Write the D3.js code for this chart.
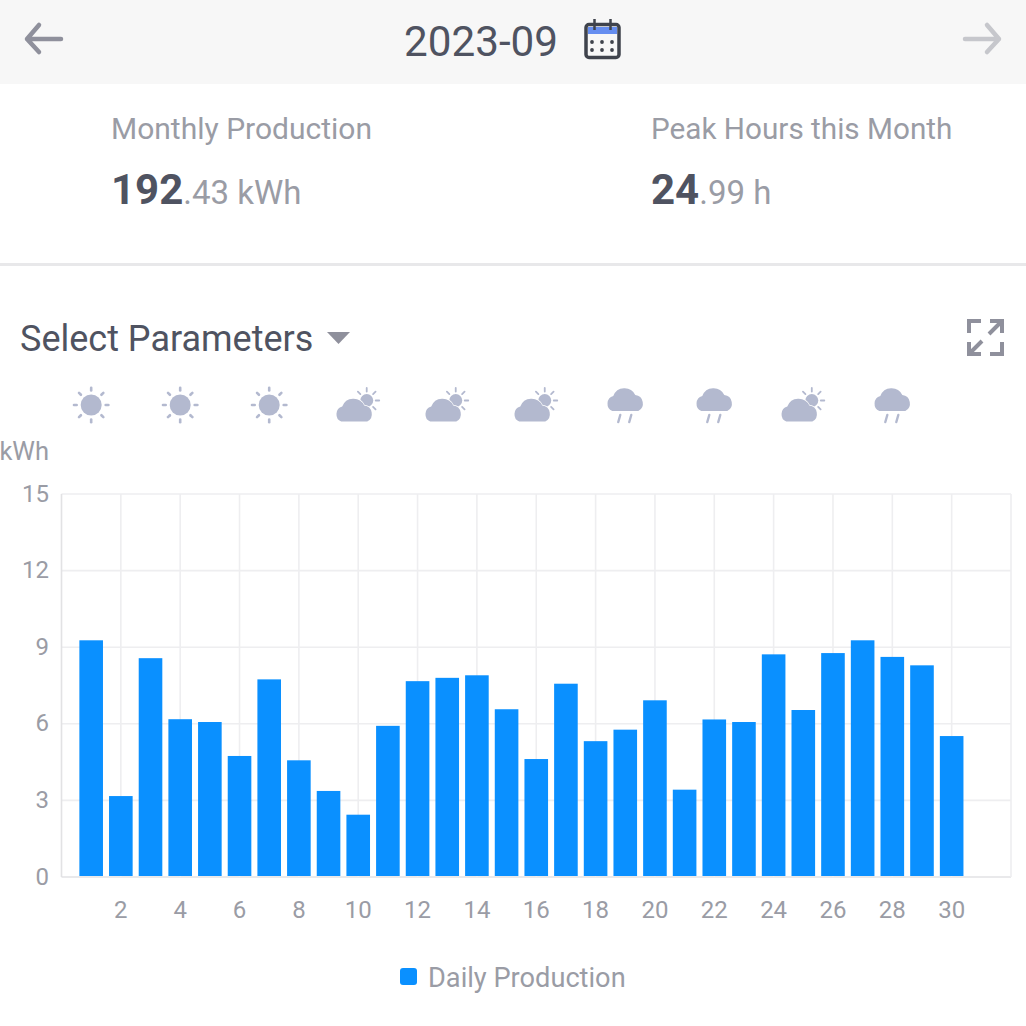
<!DOCTYPE html>
<html>
<head>
<meta charset="utf-8">
<script src="https://cdn.jsdelivr.net/npm/d3@7"></script>
<style>
  html, body { margin: 0; padding: 0; background: #fff; }
  svg { display: block; font-family: Roboto, sans-serif; }
</style>
</head>
<body>
<svg id="chart" width="1026" height="1026"></svg>
<script>
const days = d3.range(1, 31);
const dailyProduction = [9.27, 3.17, 8.57, 6.18, 6.07, 4.74, 7.74, 4.57, 3.37, 2.44,
  5.92, 7.67, 7.8, 7.9, 6.57, 4.62, 7.57, 5.32, 5.77, 6.92,
  3.42, 6.17, 6.07, 8.72, 6.54, 8.77, 9.27, 8.62, 8.29, 5.52];
const yTicks = [0, 3, 6, 9, 12, 15];
const xTicks = d3.range(2, 31, 2);
const gridDays = [0, ...xTicks, 32];
const weatherDays = [1, 4, 7, 10, 13, 16, 19, 22, 25, 28];
const weatherTypes = ['sun', 'sun', 'sun', 'partly', 'partly', 'partly', 'rain', 'rain', 'partly', 'rain'];

const svg = d3.select('#chart');
const x = d3.scaleLinear().domain([0, 32]).range([61.5, 1011]);
const y = d3.scaleLinear().domain([0, 15]).range([877, 494]);
const iconColor = '#b3b9cf';
const textGrey = '#9a9ca5';

// header
svg.append('rect').attr('width', 1026).attr('height', 84).attr('fill', '#f7f7f7');

const arrow = (x0, dir, color) => {
  svg.append('path')
    .attr('d', `M${x0} 39H${x0 + dir * 34}M${x0 + dir * 12} 25L${x0} 39L${x0 + dir * 12} 52`)
    .attr('fill', 'none').attr('stroke', color).attr('stroke-width', 4.5)
    .attr('stroke-linecap', 'round').attr('stroke-linejoin', 'round');
};
arrow(27, 1, '#8f909c');
arrow(999, -1, '#c6c7cc');

svg.append('text').attr('x', 404).attr('y', 56).attr('font-size', 43)
  .attr('textLength', 154).attr('lengthAdjust', 'spacingAndGlyphs')
  .attr('fill', '#4f5361').text('2023-09');

// calendar icon
const cal = svg.append('g');
cal.append('rect').attr('x', 586).attr('y', 24.5).attr('width', 33).attr('height', 33).attr('rx', 3)
  .attr('fill', '#f7f7f7').attr('stroke', '#3f434c').attr('stroke-width', 3.5);
cal.append('rect').attr('x', 588).attr('y', 27).attr('width', 29).attr('height', 7).attr('fill', '#668ef0');
cal.append('path').attr('d', 'M594.5 19V30M610.5 19V30').attr('stroke', '#3f434c').attr('stroke-width', 2.5);
[592, 602, 612].forEach(cx => [42, 50].forEach(cy => {
  cal.append('circle').attr('cx', cx).attr('cy', cy).attr('r', 1.9).attr('fill', '#3f434c');
}));

// summary
const stat = (x0, label, labelSize, big, rest) => {
  svg.append('text').attr('x', x0).attr('y', 139).attr('font-size', labelSize)
    .attr('fill', textGrey).text(label);
  const t = svg.append('text').attr('x', x0).attr('y', 204);
  t.append('tspan').attr('font-size', 42).attr('font-weight', 700).attr('fill', '#4f5361').text(big);
  t.append('tspan').attr('font-size', 33).attr('fill', textGrey).text(rest);
};
stat(111, 'Monthly Production', 30, '192', '.43 kWh');
stat(651, 'Peak Hours this Month', 29.7, '24', '.99 h');

svg.append('rect').attr('y', 263).attr('width', 1026).attr('height', 3).attr('fill', '#e8e8ea');

// parameter row
svg.append('text').attr('x', 20).attr('y', 351).attr('font-size', 36)
  .attr('fill', '#4f5361').text('Select Parameters');
svg.append('path').attr('d', 'M327 332H350L338.5 344Z').attr('fill', '#8f909c');
svg.append('path')
  .attr('d', 'M969 333V321H981M990 321H1002V333M1002 321L989 334M969 342V354H981M969 354L982 341M1002 342V354H990')
  .attr('fill', 'none').attr('stroke', '#8f909c').attr('stroke-width', 4);

// weather icons
const cloud = 'M-14 6a8 8 0 0 1 1-15a12 12 0 0 1 22-1a8.5 8.5 0 0 1 3 16Z';
weatherDays.forEach((d, i) => {
  const g = svg.append('g').attr('transform', `translate(${x(d)},405)`);
  const type = weatherTypes[i];
  if (type === 'sun') {
    g.append('circle').attr('r', 10.5).attr('fill', iconColor);
    d3.range(8).forEach(k => {
      g.append('line').attr('x1', 14.5).attr('x2', 17.2)
        .attr('transform', `rotate(${k * 45})`)
        .attr('stroke', iconColor).attr('stroke-width', 2.6).attr('stroke-linecap', 'round');
    });
  } else if (type === 'partly') {
    const s = g.append('g').attr('transform', 'translate(8.5,-4.5)');
    s.append('circle').attr('r', 6.5).attr('fill', iconColor);
    [-90, -45, 0, 45, 225].forEach(a => {
      s.append('line').attr('x1', 9).attr('x2', 12.5)
        .attr('transform', `rotate(${a})`)
        .attr('stroke', iconColor).attr('stroke-width', 1.8).attr('stroke-linecap', 'round');
    });
    g.append('path').attr('d', cloud).attr('transform', 'translate(-3,10.5)')
      .attr('fill', iconColor).attr('stroke', '#fff').attr('stroke-width', 1.5).attr('paint-order', 'stroke');
  } else {
    g.append('path').attr('d', cloud).attr('transform', 'translate(1,0)').attr('fill', iconColor);
    g.append('path').attr('d', 'M-5 10L-7 17M6 10L4 17')
      .attr('stroke', iconColor).attr('stroke-width', 2.4).attr('stroke-linecap', 'round');
  }
});

// grid
svg.append('g').selectAll('line').data(yTicks).join('line')
  .attr('x1', x(0)).attr('x2', x(32)).attr('y1', d => y(d)).attr('y2', d => y(d))
  .attr('stroke', d => d === 0 ? '#e2e2e4' : '#eeeef0').attr('stroke-width', 1.6);
svg.append('g').selectAll('line').data(gridDays).join('line')
  .attr('x1', d => x(d)).attr('x2', d => x(d)).attr('y1', y(15)).attr('y2', y(0))
  .attr('stroke', d => d === 0 ? '#e2e2e4' : '#eeeef0').attr('stroke-width', 1.6);

// bars
const barWidth = 23.6;
svg.append('g').selectAll('rect').data(days).join('rect')
  .attr('x', d => x(d) - barWidth / 2)
  .attr('y', (d, i) => y(dailyProduction[i]))
  .attr('width', barWidth)
  .attr('height', (d, i) => y(0) - y(dailyProduction[i]) - 1)
  .attr('fill', '#0a90ff');

// tick labels
svg.append('g').selectAll('text').data(yTicks).join('text')
  .attr('x', 49).attr('y', d => y(d) + 7.5).attr('text-anchor', 'end')
  .attr('font-size', 24).attr('fill', textGrey).text(d => d);
svg.append('g').selectAll('text').data(xTicks).join('text')
  .attr('x', d => x(d)).attr('y', 918).attr('text-anchor', 'middle')
  .attr('font-size', 24).attr('fill', textGrey).text(d => d);
svg.append('text').attr('x', 49).attr('y', 460).attr('text-anchor', 'end')
  .attr('font-size', 25.5).attr('fill', textGrey).text('kWh');

// legend
svg.append('rect').attr('x', 400).attr('y', 968).attr('width', 17).attr('height', 17).attr('rx', 3).attr('fill', '#0a90ff');
svg.append('text').attr('x', 428).attr('y', 987).attr('font-size', 27.2)
  .attr('fill', textGrey).text('Daily Production');
</script>
</body>
</html>
